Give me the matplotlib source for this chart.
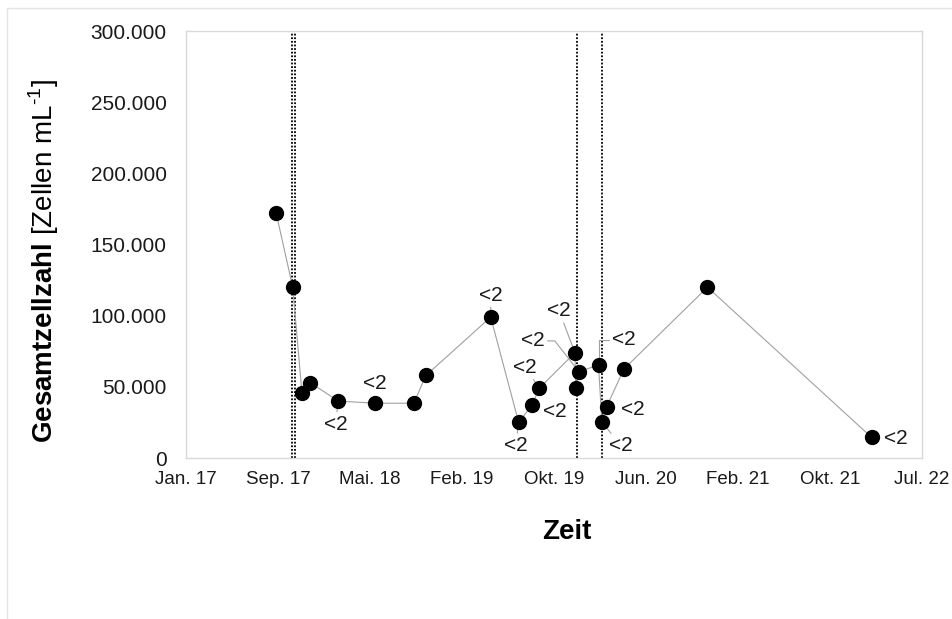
import matplotlib
matplotlib.use("Agg")
import matplotlib.pyplot as plt
import pandas as pd
from matplotlib.patches import Rectangle
from matplotlib.ticker import FuncFormatter

plt.rcParams["font.family"] = ["Liberation Sans", "DejaVu Sans"]
plt.rcParams["mathtext.fontset"] = "custom"
plt.rcParams["mathtext.rm"] = "Liberation Sans"
plt.rcParams["mathtext.bf"] = "Liberation Sans:bold"

# sampling dates and total cell counts (cells per mL)
dates = pd.to_datetime([
    "2017-09-17", "2017-11-01", "2017-11-26", "2017-12-18", "2018-03-05",
    "2018-06-12", "2018-09-26", "2018-10-29", "2019-04-23", "2019-07-08",
    "2019-08-13", "2019-09-02", "2019-12-08", "2019-12-10", "2019-12-19",
    "2020-02-10", "2020-02-19", "2020-03-03", "2020-04-19", "2020-12-02",
    "2022-02-21",
])
cells = [172000, 120000, 46000, 53000, 40000,
         38500, 38500, 58000, 99000, 25000,
         37000, 49000, 74000, 49000, 60500,
         65500, 25500, 36000, 62500, 120000,
         14500]
# "<2" flag per sample
flag = [False, False, False, False, True,
        True, False, False, True, True,
        True, True, True, False, True,
        True, True, True, False, False,
        True]

# events marked by dotted vertical lines
events = pd.to_datetime(["2017-10-30", "2017-11-08", "2019-12-13", "2020-02-19"])

tick_dates = pd.to_datetime([
    "2017-01-15", "2017-09-22", "2018-05-30", "2019-02-04", "2019-10-12",
    "2020-06-18", "2021-02-23", "2021-10-31", "2022-07-08",
])
tick_labels = ["Jan. 17", "Sep. 17", "Mai. 18", "Feb. 19", "Okt. 19",
               "Jun. 20", "Feb. 21", "Okt. 21", "Jul. 22"]

# label placement: index -> (dx px, dy px, connection style or None)
label_pos = {
    4: (-3, -23, "arc3"),
    5: (0, 20, None),
    8: (0, 22, "arc3"),
    9: (-3, -23, "arc3"),
    10: (23, -6, None),
    11: (-14, 21, "arc3"),
    12: (-16, 42, "arc3"),
    14: (-46, 31, "angle,angleA=0,angleB=128,rad=0"),
    15: (25, 25, "angle,angleA=0,angleB=90,rad=0"),
    16: (19, -24, "arc3"),
    17: (26, -3, None),
    20: (24, -1, None),
}

fig = plt.figure(figsize=(9.52, 6.19), dpi=100)
W, H = 952, 619
ax = fig.add_axes([186 / W, 1 - 458 / H, (922 - 186) / W, (458 - 31) / H])

fig.add_artist(Rectangle((7 / W, -0.05), 1.2, 1.05 - 8 / H, transform=fig.transFigure,
                         fill=False, edgecolor="#e3e3e3", lw=1))

ax.plot(dates, cells, color="#a0a0a0", lw=0.8, zorder=2)
ax.scatter(dates, cells, s=100, color="black", zorder=5)

for ev in events:
    ax.axvline(ev, color="black", ls=(0, (1, 1)), lw=1.3, zorder=1)

for i, (dx, dy, cs) in label_pos.items():
    if not flag[i]:
        continue
    kw = {}
    if cs is not None:
        kw["arrowprops"] = dict(arrowstyle="-", color="#a0a0a0", lw=0.8,
                                connectionstyle=cs, shrinkA=0, shrinkB=0)
    ax.annotate("<2", (dates[i], cells[i]), xytext=(dx, dy), textcoords="offset pixels",
                ha="center", va="center", fontsize=15, color="#1a1a1a", zorder=4, **kw)

ax.set_xlim(tick_dates[0], tick_dates[-1])
ax.set_ylim(0, 300000)
ax.set_xticks(tick_dates)
ax.set_xticklabels(tick_labels)
ax.set_yticks(range(0, 300001, 50000))
ax.yaxis.set_major_formatter(FuncFormatter(lambda v, p: f"{v:,.0f}".replace(",", ".")))
ax.tick_params(axis="both", length=0, labelcolor="#1a1a1a")
ax.tick_params(axis="x", labelsize=13.5, pad=9)
ax.tick_params(axis="y", labelsize=15, pad=14)

for s in ax.spines.values():
    s.set_color("#d9d9d9")
    s.set_linewidth(1)

ax.set_ylabel(r"$\mathbf{Gesamtzellzahl}$ [Zellen mL$^{\text{-1}}$]", fontsize=20)
ax.yaxis.set_label_coords(-0.170, 0.461)
fig.text(567 / W, 1 - 532 / H, "Zeit", fontsize=20, fontweight="bold",
         ha="center", va="center")

fig.savefig("out.png", dpi=100)
